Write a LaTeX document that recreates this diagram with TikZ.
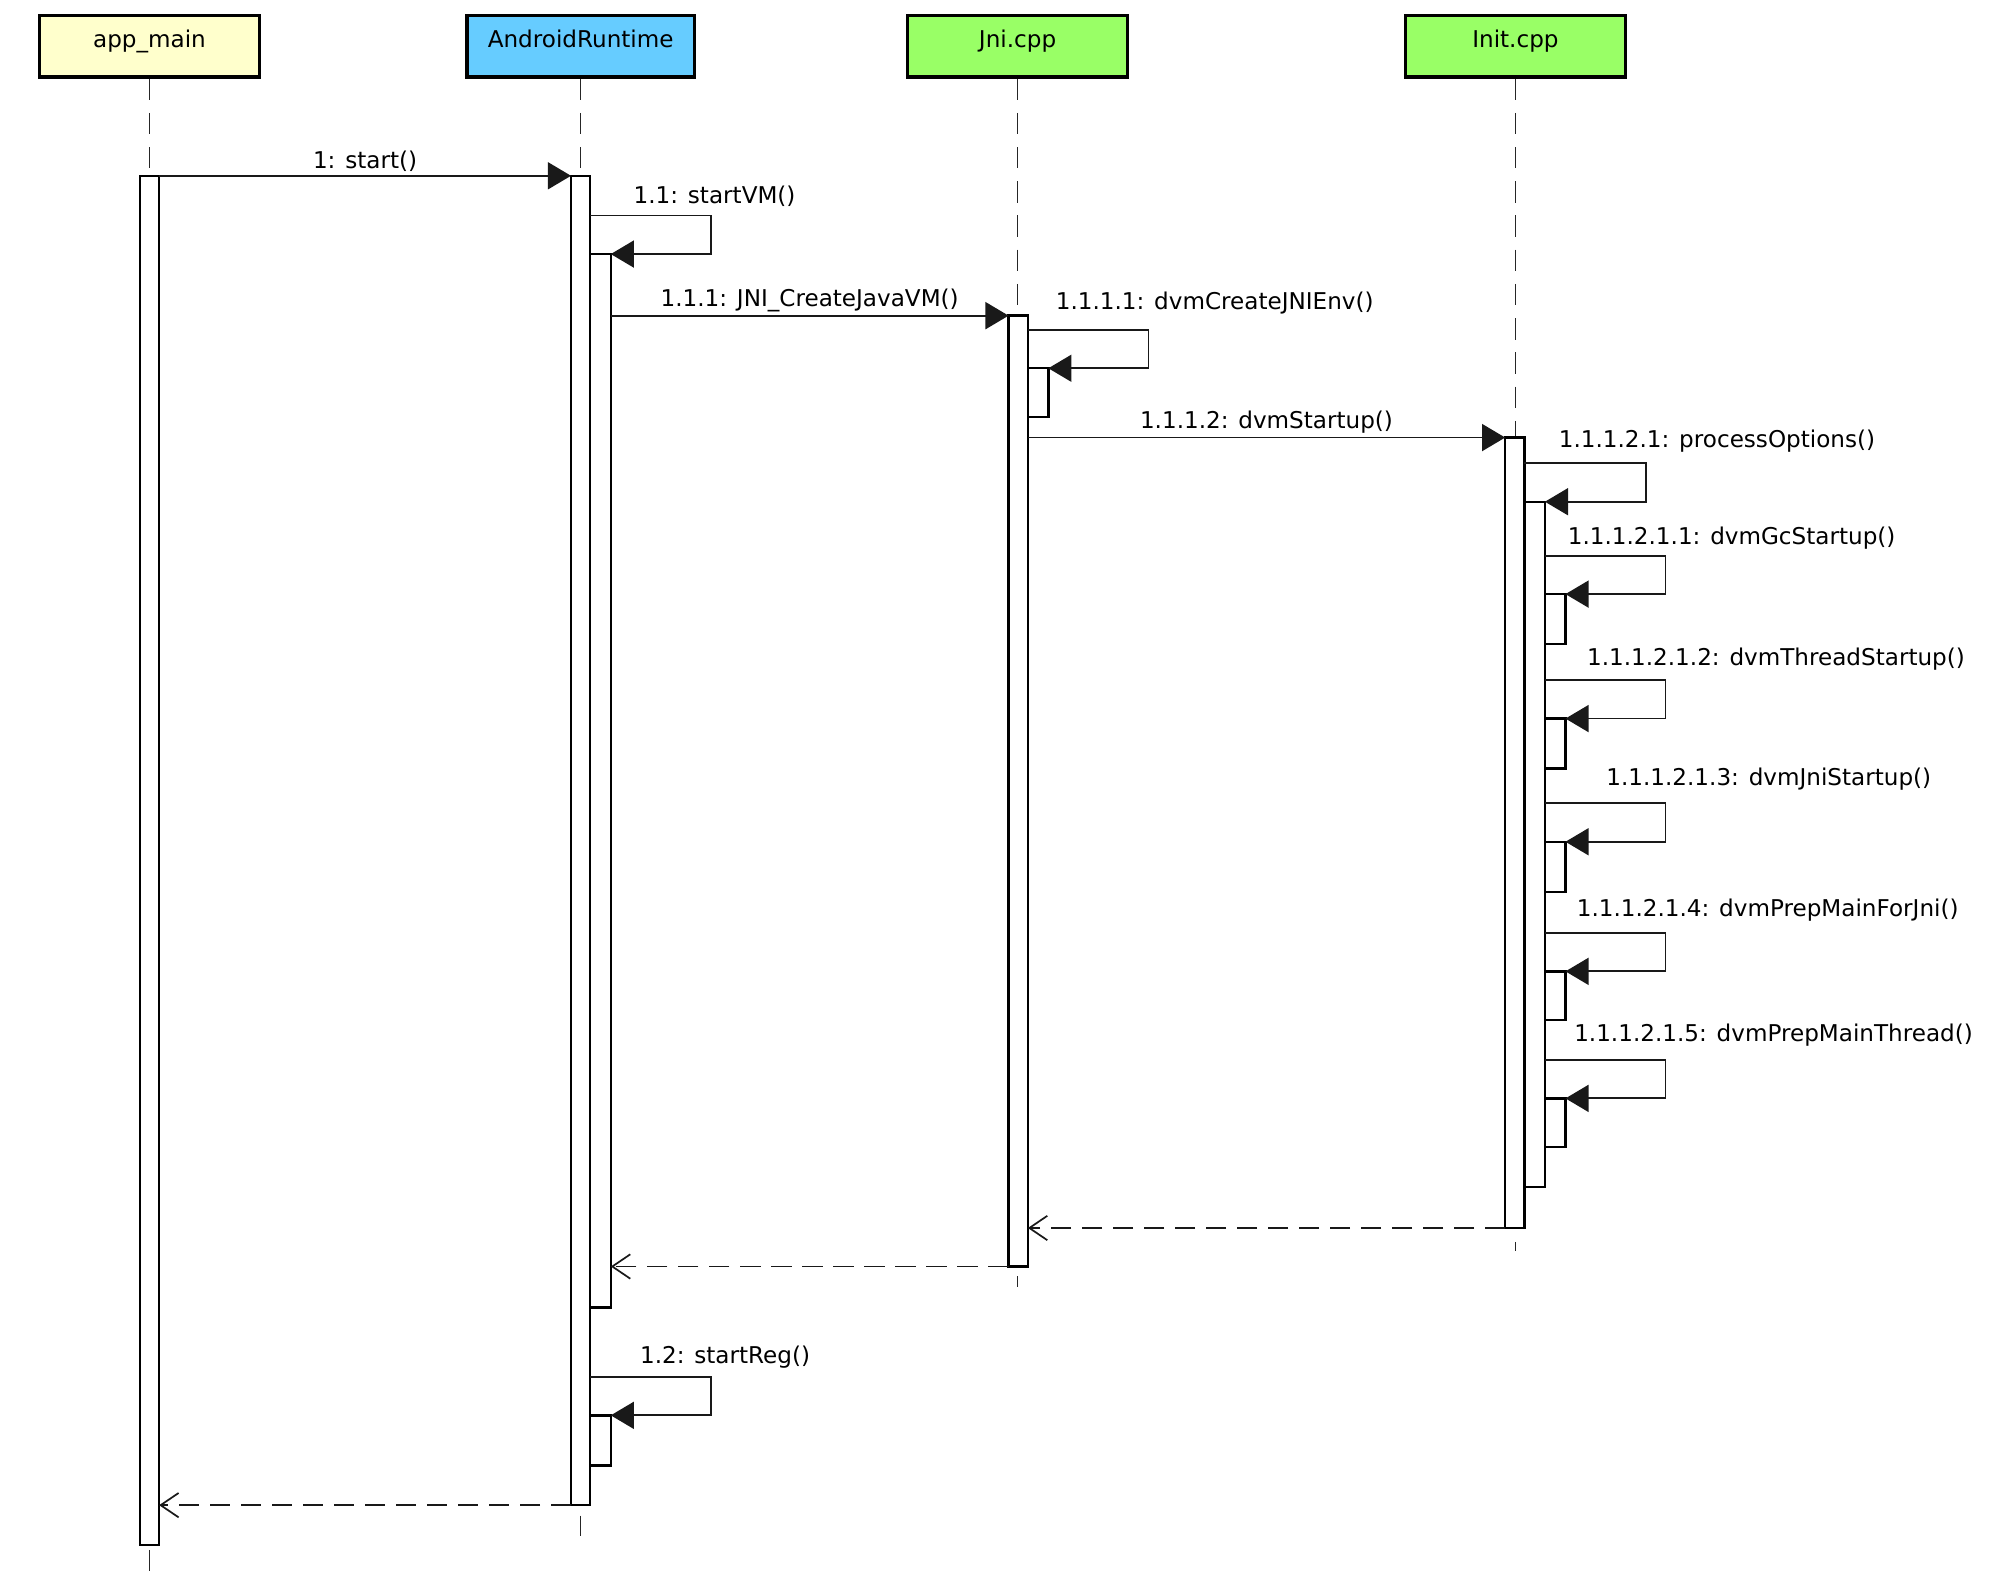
\documentclass[tikz,border=0pt]{standalone}
\usepackage{fontspec}
\setmainfont{DejaVu Sans}
\usetikzlibrary{arrows.meta,fit,calc}
\definecolor{mainyellow}{HTML}{FFFFCC}
\definecolor{runtimeblue}{HTML}{66CCFF}
\definecolor{cppgreen}{HTML}{99FF66}
\begin{document}
\begin{tikzpicture}[x=0.6pt,y=-0.6pt,font=\fontsize{10.8}{13}\selectfont,
	head/.style={draw,line width=1.5pt,minimum width=102.6pt,minimum height=28.8pt,inner sep=0pt,text height=7.8pt,text depth=6.5pt},
	life/.style={draw=black!85,line width=0.8pt,dash pattern=on 10pt off 6pt},
	act/.style={draw,fill=white,line width=1.1pt,inner sep=0pt,outer sep=0pt},
	call/.style={draw=black!90,line width=0.85pt,-{Triangle[length=10.8pt,width=12.6pt]}},
	ret/.style={draw=black!90,line width=0.85pt,dash pattern=on 9.5pt off 5pt,-{Straight Barb[length=8.4pt,width=11.4pt,line width=0.8pt]}},
	lbl/.style={inner sep=1.5pt}]
	\useasboundingbox (0,0) rectangle (1568,1242);
	% heads
	\node[head,fill=mainyellow] (appmain) at (116.5,36) {app\_main};
	\node[head,fill=runtimeblue,minimum width=106.2pt] (runtime) at (452.5,36) {AndroidRuntime};
	\node[head,fill=cppgreen] (jnicpp) at (793,36) {Jni.cpp};
	\node[head,fill=cppgreen] (initcpp) at (1181,36) {Init.cpp};
	% lifelines
	\foreach \h/\e in {appmain/1228,runtime/1197,jnicpp/1003,initcpp/975}
	{
		\draw[life] (\h.south) -- (\h.south |- 0,\e);
	}
	% activations
	\foreach \n/\xa/\ya/\xb/\yb in
	{
		am/109/137/124/1204,
		ar/445/137/460/1173,
		ar1/460/198/476/1019,
		ar2/460/1103/476/1142,
		jn/786/246/801/987,
		jn1/801/287/817/325,
		in/1173/341/1188/957,
		in1/1188/391/1204/925,
		in21/1204/463/1220/502,
		in22/1204/560/1220/599,
		in23/1204/656/1220/695,
		in24/1204/757/1220/795,
		in25/1204/856/1220/894
	}
	{
		\node[act,fit={(\xa,\ya) (\xb,\yb)}] (\n) {};
	}
	% calls
	\draw[call] (am.north east) -- node[lbl,above] (m1) {1: start()} (ar.north west);
	\draw[call] ($(ar1.north west)+(0,-30)$) -- ++(94,0) |- (ar1.north east);
	\node[lbl,anchor=west] (m11) at (491,153) {1.1: startVM()};
	\draw[call] (ar1.east |- jn.north) -- node[lbl,above] (m111) {1.1.1: JNI\_CreateJavaVM()} (jn.north west);
	\draw[call] ($(jn1.north west)+(0,-30)$) -- ++(94,0) |- (jn1.north east);
	\node[lbl,anchor=west] (m1111) at (820,236) {1.1.1.1: dvmCreateJNIEnv()};
	\draw[call] (jn.east |- in.north) -- node[lbl,above] (m1112) {1.1.1.2: dvmStartup()} (in.north west);
	\draw[call] ($(in1.north west)+(0,-30)$) -- ++(95,0) |- (in1.north east);
	\node[lbl,anchor=west] (m11121) at (1212,344) {1.1.1.2.1: processOptions()};
	\foreach \n/\lx/\ly/\l in
	{
		1/1219/419/{dvmGcStartup()},
		2/1234/514/{dvmThreadStartup()},
		3/1249/607/{dvmJniStartup()},
		4/1226/709/{dvmPrepMainForJni()},
		5/1224/807/{dvmPrepMainThread()}
	}
	{
		\draw[call] ($(in2\n.north west)+(0,-30)$) -- ++(94,0) |- (in2\n.north east);
		\node[lbl,anchor=west] (m1112\n) at (\lx,\ly) {1.1.1.2.1.\n: \l};
	}
	% returns
	\draw[ret] (in.south west) -- (jn.east |- in.south);
	\draw[ret] (jn.south west) -- (ar1.east |- jn.south);
	\draw[call] ($(ar2.north west)+(0,-30)$) -- ++(94,0) |- (ar2.north east);
	\node[lbl,anchor=west] (m12) at (496,1058) {1.2: startReg()};
	\draw[ret] (ar.south west) -- (am.east |- ar.south);
\end{tikzpicture}
\end{document}
